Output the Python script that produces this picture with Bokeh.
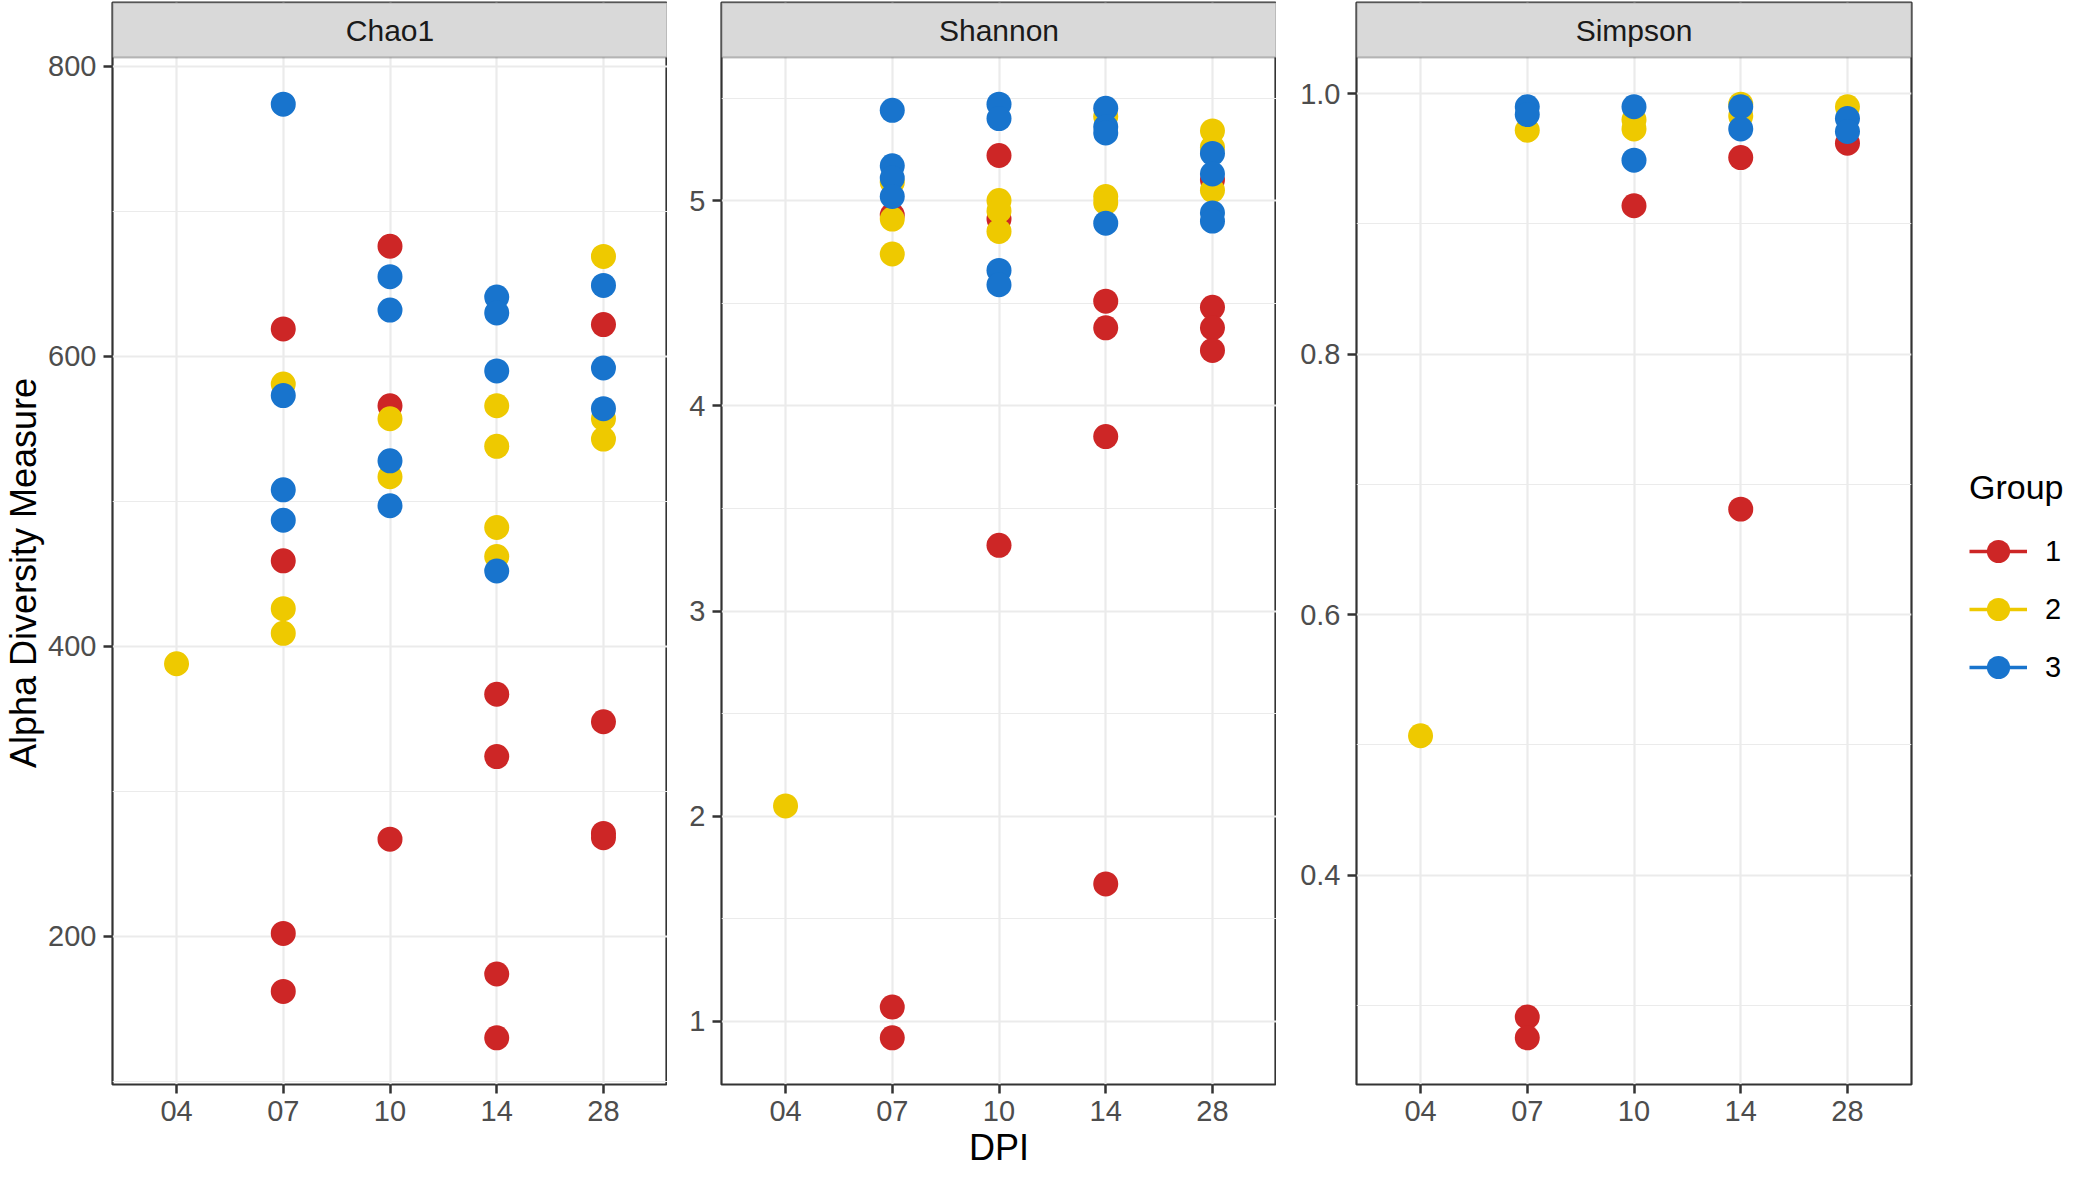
import math
import numpy as np
from bokeh.plotting import figure
from bokeh.models import (Range1d, FixedTicker, PrintfTickFormatter, BasicTickFormatter,
                          Legend, LegendItem, Label, ColumnDataSource, BoxAnnotation)
from bokeh.layouts import row
from bokeh.embed import file_html
from bokeh.resources import INLINE

# ---------------- data ----------------
dpi_labels = ["04", "07", "10", "14", "28"]
group_labels = ["1", "2", "3"]
group_colors = ["#CD2626", "#EEC900", "#1874CD"]
metric_names = ["Chao1", "Shannon", "Simpson"]
y_title = "Alpha Diversity Measure"
x_title = "DPI"
legend_title = "Group"

chao1_dpi = ["07", "07", "07", "07", "10", "10", "10", "14", "14", "14", "14", "28", "28", "28", "28",
             "04", "07", "07", "07", "10", "10", "14", "14", "14", "14", "28", "28", "28",
             "07", "07", "07", "07", "10", "10", "10", "10", "14", "14", "14", "14", "28", "28", "28"]
chao1_group = ["1"] * 15 + ["2"] * 13 + ["3"] * 15
chao1_value = [619, 459, 202, 162, 676, 566, 267, 367, 324, 174, 130, 622, 348, 271, 268,
               388, 581, 426, 409, 557, 517, 566, 538, 482, 462, 669, 557, 543,
               774, 573, 508, 487, 655, 632, 528, 497, 641, 630, 590, 452, 649, 592, 564]

shannon_dpi = ["07", "07", "07", "10", "10", "10", "14", "14", "14", "14", "28", "28", "28", "28",
               "04", "07", "07", "07", "10", "10", "10", "14", "14", "14", "28", "28", "28",
               "07", "07", "07", "07", "10", "10", "10", "10", "14", "14", "14", "14", "28", "28", "28", "28"]
shannon_group = ["1"] * 14 + ["2"] * 13 + ["3"] * 16
shannon_value = [4.93, 1.07, 0.92, 5.22, 4.91, 3.32, 4.51, 4.38, 3.85, 1.67, 5.10, 4.48, 4.38, 4.27,
                 2.05, 5.09, 4.91, 4.74, 5.00, 4.95, 4.85, 5.41, 5.02, 4.99, 5.34, 5.26, 5.05,
                 5.44, 5.17, 5.11, 5.02, 5.47, 5.40, 4.66, 4.59, 5.45, 5.36, 5.33, 4.89, 5.23, 5.13, 4.94, 4.90]

simpson_dpi = ["07", "07", "10", "14", "14", "28",
               "04", "07", "10", "10", "14", "14", "28",
               "07", "07", "10", "10", "14", "14", "28", "28"]
simpson_group = ["1"] * 6 + ["2"] * 7 + ["3"] * 8
simpson_value = [0.291, 0.275, 0.914, 0.951, 0.681, 0.962,
                 0.507, 0.972, 0.980, 0.973, 0.992, 0.983, 0.990,
                 0.990, 0.984, 0.990, 0.949, 0.990, 0.973, 0.981, 0.971]

chao1_ticks = [200, 400, 600, 800]
chao1_minor = [100, 300, 500, 700]
shannon_ticks = [1, 2, 3, 4, 5]
shannon_minor = [1.5, 2.5, 3.5, 4.5, 5.5]
simpson_ticks = [0.4, 0.6, 0.8, 1.0]
simpson_minor = [0.3, 0.5, 0.7, 0.9]

# ---------------- layout constants ----------------
FONT = "Liberation Sans"
FW = 555
FH = 1027          # data area height
STRIP_H = 55       # facet strip height
MT = 2
MB = 93
TOTAL_H = MT + STRIP_H + FH + MB
YT_W = 45          # width of the y-title column
borders = [(67, 0), (54, 0), (80, 151)]


def make_panel(name, dpis, grps, vals, ticks, minor, fmt, bl, br, xlabel=None):
    lo, hi = min(vals), max(vals)
    pad = (hi - lo) * 0.05
    y0, y1 = lo - pad, hi + pad
    strip_data = (y1 - y0) * STRIP_H / FH
    x0, x1 = 0.4, len(dpi_labels) + 0.6
    p = figure(frame_width=FW, frame_height=FH + STRIP_H,
               x_range=Range1d(x0, x1), y_range=Range1d(y0, y1 + strip_data),
               toolbar_location=None, output_backend="svg",
               min_border_left=bl, min_border_right=br, min_border_top=MT, min_border_bottom=MB)
    p.xaxis.ticker = FixedTicker(ticks=list(range(1, len(dpi_labels) + 1)))
    p.xaxis.major_label_overrides = {i + 1: lab for i, lab in enumerate(dpi_labels)}
    p.yaxis.ticker = FixedTicker(ticks=ticks, minor_ticks=minor)
    p.yaxis.formatter = fmt
    for ax in p.axis:
        ax.axis_line_color = None
        ax.major_tick_line_color = "#333333"
        ax.major_tick_line_width = 2.5
        ax.major_tick_out = 9
        ax.major_tick_in = 0
        ax.minor_tick_line_color = None
        ax.major_label_text_font = FONT
        ax.major_label_text_font_size = "29px"
        ax.major_label_text_color = "#4D4D4D"
        ax.axis_label_text_font = FONT
        ax.axis_label_text_font_size = "36px"
        ax.axis_label_text_font_style = "normal"
        ax.axis_label_text_color = "black"
    p.xaxis.major_label_standoff = 7
    p.yaxis.major_label_standoff = 7
    if xlabel:
        p.xaxis.axis_label = xlabel
        p.xaxis.axis_label_standoff = 3
    p.grid.grid_line_color = "#EBEBEB"
    p.grid.grid_line_width = 2.2
    p.ygrid.minor_grid_line_color = "#EBEBEB"
    p.ygrid.minor_grid_line_width = 1.1
    p.outline_line_color = "#333333"
    p.outline_line_width = 2.2
    p.background_fill_color = "white"

    renderers = []
    for g, c in zip(group_labels, group_colors):
        xs = [dpi_labels.index(d) + 1 for d, gg in zip(dpis, grps) if gg == g]
        ys = [v for v, gg in zip(vals, grps) if gg == g]
        src = ColumnDataSource(dict(x=xs, y=ys))
        r = p.scatter("x", "y", source=src, size=25, fill_color=c, line_color=None)
        renderers.append(r)

    # facet strip on top of the panel
    p.add_layout(BoxAnnotation(bottom=y1, fill_color="#D9D9D9", fill_alpha=1.0,
                               line_color="#333333", line_width=2.2))
    p.add_layout(Label(x=(x0 + x1) / 2, y=y1 + strip_data / 2, text=name,
                       text_align="center", text_baseline="middle",
                       text_font=FONT, text_font_size="30px", text_color="#1A1A1A"))
    return p, renderers


datasets = [
    (chao1_dpi, chao1_group, chao1_value, chao1_ticks, chao1_minor, BasicTickFormatter()),
    (shannon_dpi, shannon_group, shannon_value, shannon_ticks, shannon_minor, BasicTickFormatter()),
    (simpson_dpi, simpson_group, simpson_value, simpson_ticks, simpson_minor, PrintfTickFormatter(format="%.1f")),
]

panels = []
panel_renderers = []
for i, (name, ds, (bl, br)) in enumerate(zip(metric_names, datasets, borders)):
    p, rs = make_panel(name, *ds, bl, br, xlabel=x_title if i == 1 else None)
    panels.append(p)
    panel_renderers.append(rs)

# shared y-axis title, centred on the data area (below the strips)
yt = figure(frame_width=YT_W, frame_height=TOTAL_H, x_range=Range1d(0, YT_W), y_range=Range1d(0, TOTAL_H),
            x_axis_type=None, y_axis_type=None, toolbar_location=None, output_backend="svg",
            min_border_left=0, min_border_right=0, min_border_top=0, min_border_bottom=0)
yt.grid.visible = False
yt.outline_line_color = None
yt.add_layout(Label(x=YT_W / 2, y=MB + FH / 2, text=y_title, angle=math.pi / 2,
                    text_align="center", text_baseline="middle",
                    text_font=FONT, text_font_size="36px", text_color="black"))

# legend on the last panel (key = line + point, like the reference)
p3 = panels[2]
items = []
for g, c, sr in zip(group_labels, group_colors, panel_renderers[2]):
    lr = p3.line(x=np.array([np.nan]), y=np.array([np.nan]), line_color=c, line_width=3.3)
    items.append(LegendItem(label=g, renderers=[lr, sr]))
legend = Legend(items=items, title=legend_title, location=(58, 388), orientation="vertical",
                margin=0, padding=5, spacing=0,
                glyph_width=58, glyph_height=58, label_height=58, label_standoff=18,
                label_text_font=FONT, label_text_font_size="29px", label_text_color="black",
                title_text_font=FONT, title_text_font_size="34px", title_text_font_style="normal",
                title_text_color="black", title_standoff=15,
                border_line_color=None, background_fill_alpha=0)
p3.add_layout(legend, "right")

layout = row(yt, *panels)

with open("out.html", "w") as f:
    f.write(file_html(layout, INLINE))
